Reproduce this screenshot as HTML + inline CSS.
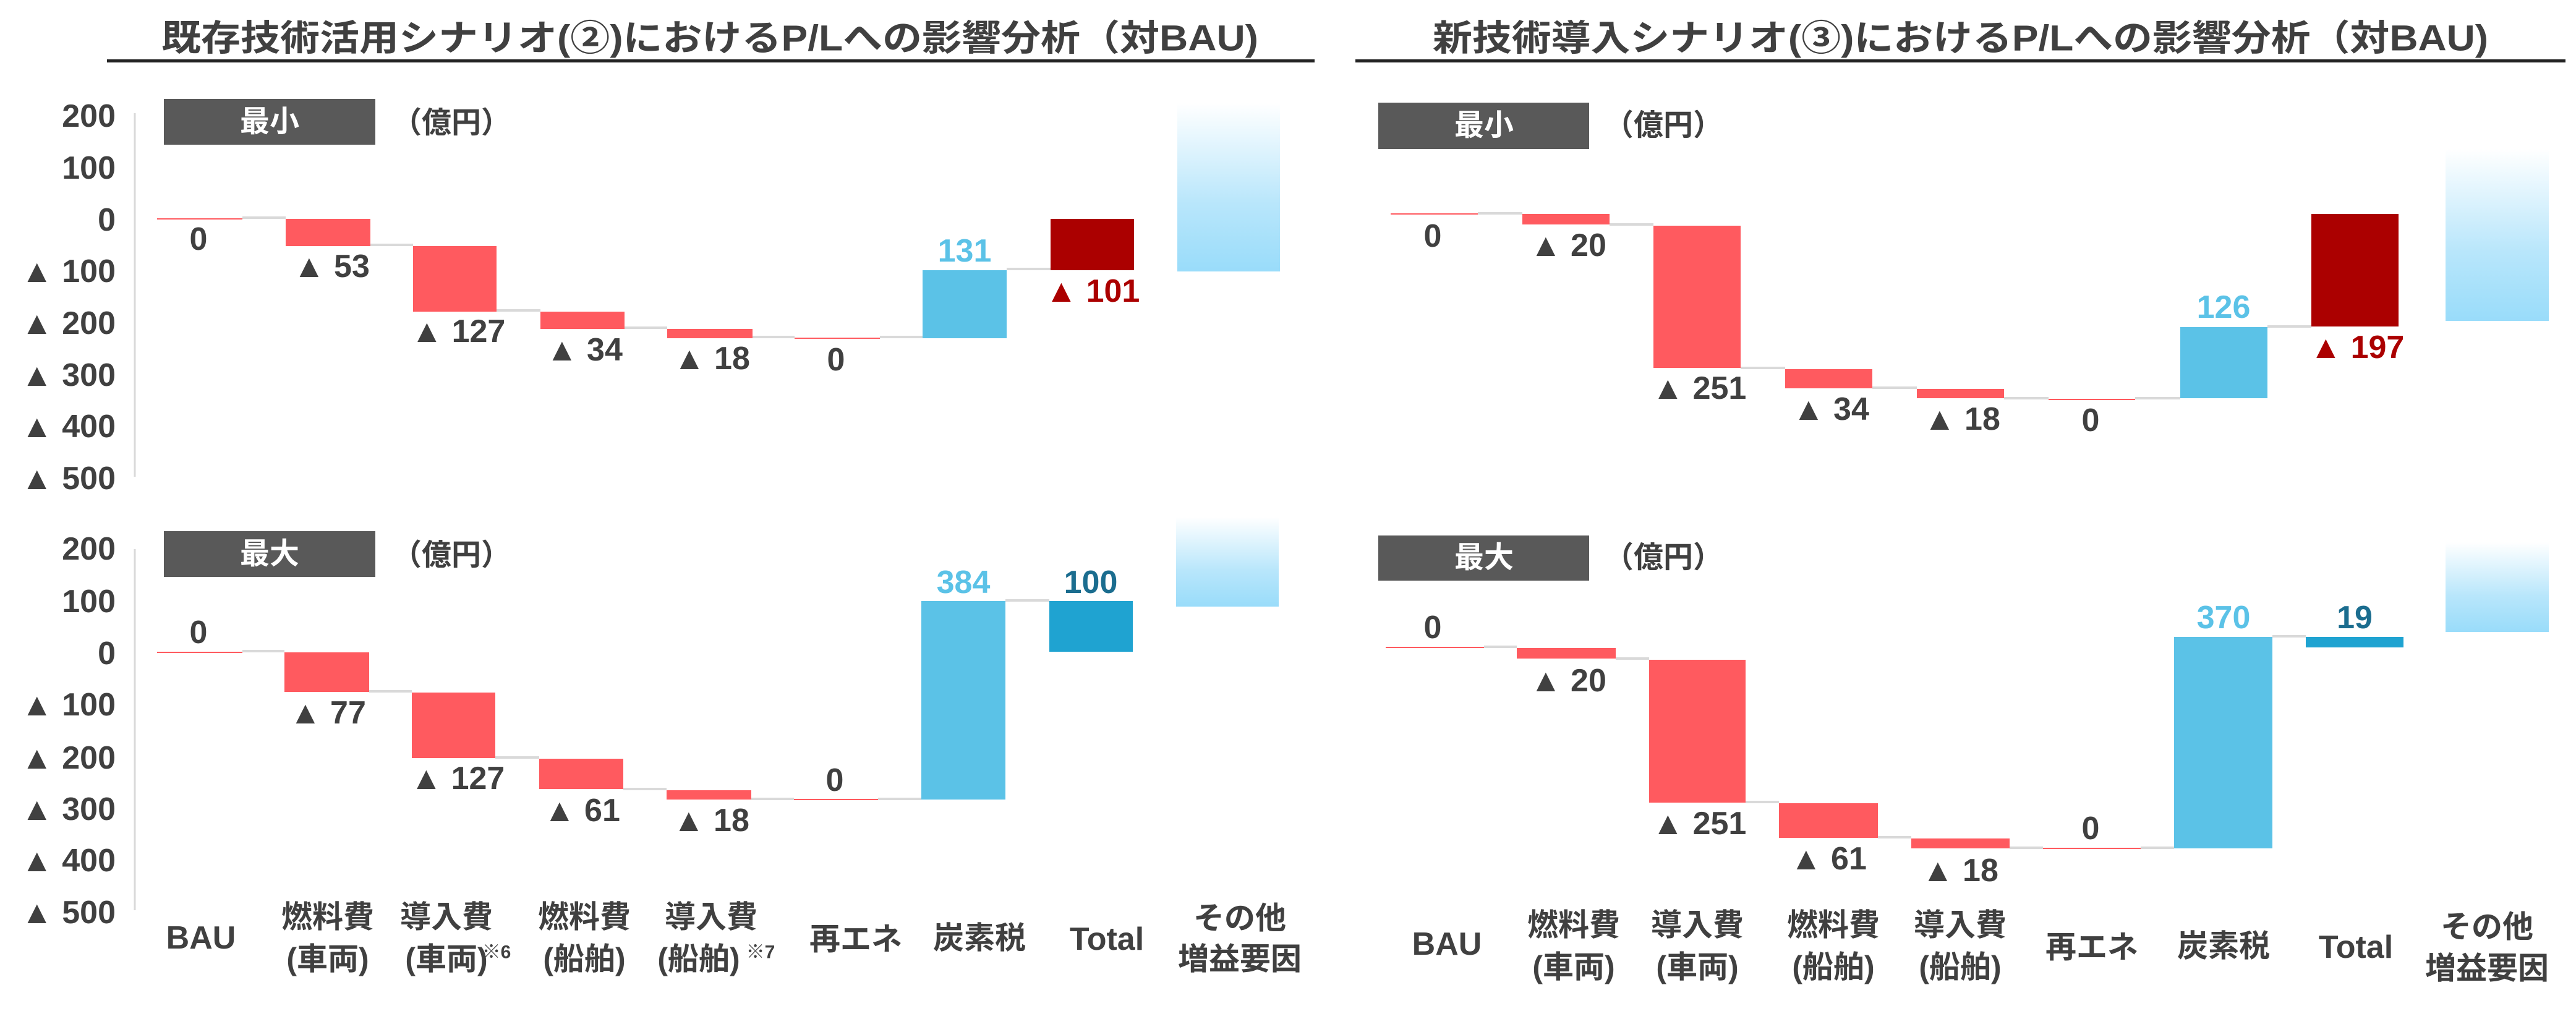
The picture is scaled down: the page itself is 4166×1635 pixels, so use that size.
<!DOCTYPE html>
<html><head><meta charset="utf-8"><style>
html,body{margin:0;padding:0;background:#fff;}
svg{display:block;}
text{font-family:"Liberation Sans","Noto Sans CJK JP",sans-serif;font-weight:bold;fill:#404040;}
.v{font-size:52px;text-anchor:middle;dominant-baseline:central;}
.t{font-size:52px;dominant-baseline:central;}
.c{font-size:50px;text-anchor:middle;dominant-baseline:central;}
.r{fill:#ff5a5f}.b{fill:#5bc2e7}
.cn{stroke:#d9d9d9;stroke-width:4}
.z{stroke:#ff5a5f;stroke-width:2}
</style></head><body>
<svg width="4166" height="1635" viewBox="0 0 4166 1635" xmlns="http://www.w3.org/2000/svg">
<defs>
<linearGradient id="g" x1="0" y1="0" x2="0" y2="1">
<stop offset="0" stop-color="#ffffff"/><stop offset="0.6" stop-color="#b8e6fb"/><stop offset="1" stop-color="#99dcfa"/>
</linearGradient>
</defs>
<!-- Titles -->
<text x="261" y="62" style="font-size:58px;dominant-baseline:central" textLength="1774" lengthAdjust="spacingAndGlyphs">既存技術活用シナリオ(②)におけるP/Lへの影響分析（対BAU)</text>
<rect x="173" y="96" width="1953" height="5" fill="#222"/>
<text x="2317" y="62" style="font-size:58px;dominant-baseline:central" textLength="1707" lengthAdjust="spacingAndGlyphs">新技術導入シナリオ(③)におけるP/Lへの影響分析（対BAU)</text>
<rect x="2192" y="96" width="1957" height="5" fill="#222"/>

<!-- LEFT TOP -->
<rect x="265" y="160" width="342" height="74" fill="#595959"/>
<text x="436" y="197" class="c" style="fill:#fff;font-size:48px">最小</text>
<text x="730" y="199" class="c" style="font-size:48px">（億円）</text>
<line x1="218" y1="183" x2="218" y2="771" stroke="#d9d9d9" stroke-width="3"/>
<g class="t" style="text-anchor:end">
<text x="187" y="188" class="t" text-anchor="end">200</text>
<text x="187" y="272" class="t" text-anchor="end">100</text>
<text x="187" y="356" class="t" text-anchor="end">0</text>
<text x="187" y="439" class="t" text-anchor="end">100</text>
<text x="187" y="523" class="t" text-anchor="end">200</text>
<text x="187" y="607" class="t" text-anchor="end">300</text>
<text x="187" y="690" class="t" text-anchor="end">400</text>
<text x="187" y="774" class="t" text-anchor="end">500</text>
</g>
<g class="t"><text x="34" y="439" class="t">▲</text><text x="34" y="523" class="t">▲</text><text x="34" y="607" class="t">▲</text><text x="34" y="690" class="t">▲</text><text x="34" y="774" class="t">▲</text></g>
<line x1="254" y1="354" x2="392" y2="354" class="z"/>
<rect x="462" y="354" width="137" height="44" class="r"/>
<rect x="668" y="398" width="135" height="106" class="r"/>
<rect x="874" y="504" width="136" height="28" class="r"/>
<rect x="1079" y="532" width="138" height="15" class="r"/>
<line x1="1285" y1="547" x2="1423" y2="547" class="z"/>
<rect x="1492" y="437" width="136" height="110" class="b"/>
<rect x="1699" y="354" width="135" height="83" fill="#ab0000"/>
<rect x="1904" y="167" width="166" height="272" fill="url(#g)"/>
<line x1="392" y1="352" x2="462" y2="352" class="cn"/>
<line x1="599" y1="396" x2="668" y2="396" class="cn"/>
<line x1="803" y1="502" x2="874" y2="502" class="cn"/>
<line x1="1010" y1="530" x2="1079" y2="530" class="cn"/>
<line x1="1217" y1="545" x2="1285" y2="545" class="cn"/>
<line x1="1423" y1="545" x2="1492" y2="545" class="cn"/>
<line x1="1628" y1="435" x2="1699" y2="435" class="cn"/>
<text x="321" y="387" class="v">0</text>
<text x="536" y="431" class="v">▲ 53</text>
<text x="741" y="536" class="v">▲ 127</text>
<text x="945" y="566" class="v">▲ 34</text>
<text x="1151" y="580" class="v">▲ 18</text>
<text x="1352" y="582" class="v">0</text>
<text x="1560" y="406" class="v" style="fill:#5bc2e7">131</text>
<text x="1767" y="471" class="v" style="fill:#ab0000">▲ 101</text>

<!-- LEFT BOTTOM -->
<rect x="265" y="859" width="342" height="74" fill="#595959"/>
<text x="436" y="896" class="c" style="fill:#fff;font-size:48px">最大</text>
<text x="730" y="898" class="c" style="font-size:48px">（億円）</text>
<line x1="218" y1="888" x2="218" y2="1472" stroke="#d9d9d9" stroke-width="3"/>
<text x="187" y="888" class="t" text-anchor="end">200</text>
<text x="187" y="973" class="t" text-anchor="end">100</text>
<text x="187" y="1057" class="t" text-anchor="end">0</text>
<text x="187" y="1140" class="t" text-anchor="end">100</text>
<text x="187" y="1226" class="t" text-anchor="end">200</text>
<text x="187" y="1309" class="t" text-anchor="end">300</text>
<text x="187" y="1392" class="t" text-anchor="end">400</text>
<text x="187" y="1476" class="t" text-anchor="end">500</text>
<text x="34" y="1140" class="t">▲</text><text x="34" y="1226" class="t">▲</text><text x="34" y="1309" class="t">▲</text><text x="34" y="1392" class="t">▲</text><text x="34" y="1476" class="t">▲</text>
<line x1="254" y1="1055" x2="392" y2="1055" class="z"/>
<rect x="460" y="1055" width="137" height="64" class="r"/>
<rect x="666" y="1120" width="135" height="106" class="r"/>
<rect x="872" y="1227" width="136" height="49" class="r"/>
<rect x="1078" y="1278" width="137" height="15" class="r"/>
<line x1="1284" y1="1293" x2="1420" y2="1293" class="z"/>
<rect x="1490" y="972" width="136" height="321" class="b"/>
<rect x="1697" y="972" width="135" height="82" fill="#1fa3d1"/>
<rect x="1902" y="836" width="166" height="145" fill="url(#g)"/>
<line x1="392" y1="1053" x2="460" y2="1053" class="cn"/>
<line x1="597" y1="1118" x2="666" y2="1118" class="cn"/>
<line x1="801" y1="1225" x2="872" y2="1225" class="cn"/>
<line x1="1008" y1="1276" x2="1078" y2="1276" class="cn"/>
<line x1="1215" y1="1292" x2="1284" y2="1292" class="cn"/>
<line x1="1420" y1="1292" x2="1490" y2="1292" class="cn"/>
<line x1="1626" y1="971" x2="1697" y2="971" class="cn"/>
<text x="321" y="1023" class="v">0</text>
<text x="530" y="1153" class="v">▲ 77</text>
<text x="740" y="1259" class="v">▲ 127</text>
<text x="941" y="1311" class="v">▲ 61</text>
<text x="1150" y="1327" class="v">▲ 18</text>
<text x="1350" y="1262" class="v">0</text>
<text x="1558" y="942" class="v" style="fill:#5bc2e7">384</text>
<text x="1764" y="942" class="v" style="fill:#1b6d8f">100</text>

<!-- LEFT categories -->
<text x="325" y="1517" class="c" style="font-size:52px">BAU</text>
<text x="530" y="1483" class="c">燃料費</text><text x="530" y="1551" class="c">(車両)</text>
<text x="722" y="1483" class="c">導入費</text><text x="722" y="1551" class="c">(車両)</text>
<text x="803" y="1540" class="c" style="font-size:30px">※6</text>
<text x="945" y="1483" class="c">燃料費</text><text x="945" y="1551" class="c">(船舶)</text>
<text x="1150" y="1483" class="c">導入費</text><text x="1130" y="1551" class="c">(船舶)</text>
<text x="1230" y="1540" class="c" style="font-size:30px">※7</text>
<text x="1384" y="1519" class="c">再エネ</text>
<text x="1584" y="1517" class="c">炭素税</text>
<text x="1790" y="1519" class="c" style="font-size:52px">Total</text>
<text x="2005" y="1485" class="c">その他</text><text x="2005" y="1551" class="c">増益要因</text>

<!-- RIGHT TOP -->
<rect x="2229" y="166" width="341" height="75" fill="#595959"/>
<text x="2400" y="203" class="c" style="fill:#fff;font-size:48px">最小</text>
<text x="2690" y="203" class="c" style="font-size:48px">（億円）</text>
<line x1="2249" y1="346" x2="2390" y2="346" class="z"/>
<rect x="2462" y="346" width="141" height="17" class="r"/>
<rect x="2674" y="365" width="141" height="230" class="r"/>
<rect x="2887" y="597" width="141" height="31" class="r"/>
<rect x="3100" y="629" width="141" height="15" class="r"/>
<line x1="3313" y1="646" x2="3453" y2="646" class="z"/>
<rect x="3526" y="529" width="141" height="115" class="b"/>
<rect x="3738" y="346" width="141" height="182" fill="#ab0000"/>
<rect x="3955" y="241" width="167" height="278" fill="url(#g)"/>
<line x1="2390" y1="345" x2="2462" y2="345" class="cn"/>
<line x1="2603" y1="363" x2="2674" y2="363" class="cn"/>
<line x1="2815" y1="595" x2="2887" y2="595" class="cn"/>
<line x1="3028" y1="627" x2="3100" y2="627" class="cn"/>
<line x1="3241" y1="644" x2="3313" y2="644" class="cn"/>
<line x1="3453" y1="644" x2="3526" y2="644" class="cn"/>
<line x1="3667" y1="528" x2="3738" y2="528" class="cn"/>
<text x="2317" y="382" class="v">0</text>
<text x="2536" y="397" class="v">▲ 20</text>
<text x="2748" y="628" class="v">▲ 251</text>
<text x="2961" y="662" class="v">▲ 34</text>
<text x="3173" y="678" class="v">▲ 18</text>
<text x="3381" y="680" class="v">0</text>
<text x="3596" y="497" class="v" style="fill:#5bc2e7">126</text>
<text x="3812" y="562" class="v" style="fill:#ab0000">▲ 197</text>

<!-- RIGHT BOTTOM -->
<rect x="2229" y="866" width="341" height="73" fill="#595959"/>
<text x="2400" y="902" class="c" style="fill:#fff;font-size:48px">最大</text>
<text x="2690" y="902" class="c" style="font-size:48px">（億円）</text>
<line x1="2241" y1="1047" x2="2400" y2="1047" class="z"/>
<rect x="2453" y="1048" width="160" height="17" class="r"/>
<rect x="2667" y="1067" width="156" height="231" class="r"/>
<rect x="2877" y="1299" width="160" height="56" class="r"/>
<rect x="3091" y="1356" width="159" height="16" class="r"/>
<line x1="3304" y1="1372" x2="3462" y2="1372" class="z"/>
<rect x="3516" y="1030" width="159" height="342" class="b"/>
<rect x="3729" y="1030" width="158" height="17" fill="#1fa3d1"/>
<rect x="3955" y="877" width="167" height="145" fill="url(#g)"/>
<line x1="2400" y1="1046" x2="2453" y2="1046" class="cn"/>
<line x1="2613" y1="1065" x2="2667" y2="1065" class="cn"/>
<line x1="2823" y1="1297" x2="2877" y2="1297" class="cn"/>
<line x1="3037" y1="1354" x2="3091" y2="1354" class="cn"/>
<line x1="3250" y1="1371" x2="3304" y2="1371" class="cn"/>
<line x1="3462" y1="1371" x2="3516" y2="1371" class="cn"/>
<line x1="3675" y1="1029" x2="3729" y2="1029" class="cn"/>
<text x="2317" y="1015" class="v">0</text>
<text x="2536" y="1101" class="v">▲ 20</text>
<text x="2748" y="1332" class="v">▲ 251</text>
<text x="2957" y="1389" class="v">▲ 61</text>
<text x="3170" y="1408" class="v">▲ 18</text>
<text x="3381" y="1340" class="v">0</text>
<text x="3596" y="999" class="v" style="fill:#5bc2e7">370</text>
<text x="3808" y="999" class="v" style="fill:#1b6d8f">19</text>

<!-- RIGHT categories -->
<text x="2340" y="1527" class="c" style="font-size:52px">BAU</text>
<text x="2545" y="1496" class="c">燃料費</text><text x="2545" y="1564" class="c">(車両)</text>
<text x="2745" y="1496" class="c">導入費</text><text x="2745" y="1564" class="c">(車両)</text>
<text x="2965" y="1496" class="c">燃料費</text><text x="2965" y="1564" class="c">(船舶)</text>
<text x="3170" y="1496" class="c">導入費</text><text x="3170" y="1564" class="c">(船舶)</text>
<text x="3383" y="1532" class="c">再エネ</text>
<text x="3596" y="1530" class="c">炭素税</text>
<text x="3810" y="1532" class="c" style="font-size:52px">Total</text>
<text x="4022" y="1499" class="c">その他</text><text x="4022" y="1566" class="c">増益要因</text>
</svg>
</body></html>
